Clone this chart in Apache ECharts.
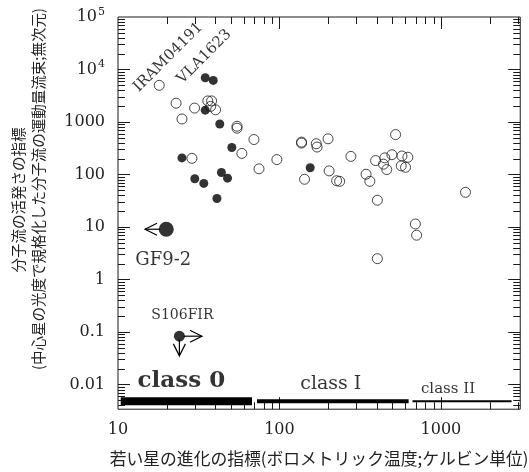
<!DOCTYPE html>
<html>
<head>
<meta charset="utf-8">
<script src="https://cdn.jsdelivr.net/npm/echarts@6/dist/echarts.min.js"></script>
<style>
html,body{margin:0;padding:0;background:#fff;}
#chart{width:529px;height:472px;}
</style>
</head>
<body>
<div id="chart"></div>
<script>
// ---- data ----
const openStars = [
  [18.0, 4990], [22.9, 2280], [29.8, 1840], [36.0, 2520], [38.0, 2520],
  [37.5, 1980], [40.2, 1706], [24.9, 1140], [54.6, 830], [54.6, 760],
  [69.5, 463], [58.5, 252], [28.7, 203], [96.4, 192], [74.7, 128],
  [137, 414], [137, 396], [169, 385], [171, 333], [200, 478],
  [143, 81], [203, 117], [226, 76], [236, 74], [277, 221],
  [524, 575], [394, 184], [449, 207], [497, 238], [574, 225],
  [624, 213], [441, 157], [462, 124], [568, 146], [604, 137],
  [344, 101], [363, 74], [404, 32.3], [1420, 45.7], [695, 11.4],
  [707, 6.97], [404, 2.49]
];
const filledStars = [
  [34.7, 6970], [38.9, 6200], [34.7, 1680], [42.7, 916], [50.7, 327],
  [24.9, 207], [43.7, 109], [47.7, 85], [29.9, 83], [34.0, 67.6],
  [41.0, 34.8], [155, 134]
];
const gf92 = [19.9, 9.05];
const s106fir = [24.0, 0.083];
// upper/lower limit arrows: [fromX, fromY, toX, toY]
const limitArrows = [
  [18.2, 9.05, 14.7, 9.05],
  [25.5, 0.083, 33.1, 0.083],
  [24.0, 0.072, 24.0, 0.035]
];
const iramStar = [18.0, 4990];
const vlaStar = [34.7, 6970];
const classNames = ['class 0', 'class I', 'class II'];
const classStart = [10.4, 72.6, 667];
const classEnd = [67.6, 631, 2740];
const classBandY = 0.0048;
const xTickLabels = [10, 100, 1000];
const yTickLabels = [0.01, 0.1, 1, 10, 100, 1000, 1e4, 1e5];
const xMajorTicks = [100, 1000];
const xMinorTicks = [20,30,40,50,60,70,80,90,200,300,400,500,600,700,800,900,2000,3000];
const yMajorTicks = [0.01, 0.1, 1, 10, 100, 1000, 1e4];
const yMinorTicks = [];
[0.001, 0.01, 0.1, 1, 10, 100, 1000, 10000].forEach(d => {
  for (let k = 2; k <= 9; k++) { const v = d * k; if (v > 0.0034 && v < 1e5) yMinorTicks.push(+v.toPrecision(3)); }
});
const X_MIN = 10, X_MAX = 3100, Y_MIN = 0.00337, Y_MAX = 1e5;

const chart = echarts.init(document.getElementById('chart'));
const ink = '#1a1a1a';
const serif = 'DejaVu Serif';

function tickSeries(values, dir, len) {
  return {
    type: 'custom', silent: true, clip: false, z: 3,
    encode: { x: 0, y: 1 },
    data: values.map(v => dir === 'x' ? [v, 1] : [100, v]),
    renderItem(params, api) {
      const cs = params.coordSys;
      const p = api.coord([api.value(0), api.value(1)]);
      const st = { stroke: ink, lineWidth: 1 };
      if (dir === 'x') {
        const x = Math.round(p[0]) + 0.5;
        const b = cs.y + cs.height, t = cs.y;
        return { type: 'group', children: [
          { type: 'line', shape: { x1: x, y1: b, x2: x, y2: b - len }, style: st },
          { type: 'line', shape: { x1: x, y1: t, x2: x, y2: t + len }, style: st }
        ]};
      }
      const y = Math.round(p[1]) + 0.5;
      const l = cs.x, r = cs.x + cs.width;
      return { type: 'group', children: [
        { type: 'line', shape: { x1: l, y1: y, x2: l + len, y2: y }, style: st },
        { type: 'line', shape: { x1: r, y1: y, x2: r - len, y2: y }, style: st }
      ]};
    }
  };
}

function isDecade(v, list) {
  return list.some(t => Math.abs(Math.log10(v) - Math.log10(t)) < 1e-6);
}

function rotatedLabelLayout(name, dx, dy) {
  return function (params) {
    if (params.text !== name) return null;
    const r = params.rect;
    return { x: r.x + r.width / 2 + dx, y: r.y + r.height / 2 + dy, rotate: 45 };
  };
}

const series = [
  tickSeries(xMajorTicks, 'x', 12),
  tickSeries(xMinorTicks, 'x', 7),
  tickSeries(yMajorTicks, 'y', 12),
  tickSeries(yMinorTicks, 'y', 7),
];

classNames.forEach((name, i) => {
  series.push({
    type: 'line', name, symbol: 'none', silent: true, z: 4,
    data: [[classStart[i], classBandY], [classEnd[i], classBandY]],
    lineStyle: { color: '#000', width: [8, 4, 2][i], cap: 'butt' }
  });
});

const classLabelStyle = [
  { fontSize: 23, fontWeight: 'bold', offset: [-5, -20] },
  { fontSize: 19, fontWeight: 'normal', offset: [-2, -17] },
  { fontSize: 15, fontWeight: 'normal', offset: [-14, -12] }
];
series.push({
  type: 'scatter', silent: true, symbolSize: 0, z: 4,
  data: classNames.map((n, i) => ({
    value: [Math.sqrt(classStart[i] * classEnd[i]), classBandY],
    label: {
      show: true, formatter: n, position: 'inside', color: '#000',
      fontFamily: serif, fontSize: classLabelStyle[i].fontSize,
      fontWeight: classLabelStyle[i].fontWeight, offset: classLabelStyle[i].offset,
      align: 'center', verticalAlign: 'middle'
    }
  }))
});

series.push({
  type: 'scatter', symbol: 'circle', symbolSize: 10, z: 5,
  data: openStars.map(p => {
    const isIram = p[0] === iramStar[0] && p[1] === iramStar[1];
    return isIram ? {
      value: p,
      label: { show: true, formatter: 'IRAM04191', position: 'inside',
        fontFamily: serif, fontSize: 15, color: '#000', align: 'center', verticalAlign: 'middle' }
    } : p;
  }),
  labelLayout: rotatedLabelLayout('IRAM04191', 9, -28),
  itemStyle: { color: 'rgba(0,0,0,0)', borderColor: ink, borderWidth: 1 }
});

series.push({
  type: 'scatter', symbol: 'circle', symbolSize: 9, z: 6,
  data: filledStars.map(p => {
    const isVla = p[0] === vlaStar[0] && p[1] === vlaStar[1];
    return isVla ? {
      value: p,
      label: { show: true, formatter: 'VLA1623', position: 'inside',
        fontFamily: serif, fontSize: 15, color: '#000', align: 'center', verticalAlign: 'middle' }
    } : p;
  }),
  labelLayout: rotatedLabelLayout('VLA1623', -1, -21),
  itemStyle: { color: '#000' }
});

series.push({
  type: 'scatter', symbol: 'circle', z: 6,
  data: [
    { value: gf92, symbolSize: 15,
      label: { show: true, formatter: 'GF9-2', position: 'inside', offset: [-3, 31], fontFamily: serif, fontSize: 18, color: '#000' } },
    { value: s106fir, symbolSize: 11,
      label: { show: true, formatter: 'S106FIR', position: 'inside', offset: [3, -21], fontFamily: serif, fontSize: 14, color: '#000' } }
  ],
  itemStyle: { color: '#000' }
});

series.push({
  type: 'custom', silent: true, clip: false, z: 5,
  data: limitArrows,
  encode: { x: [0, 2], y: [1, 3] },
  renderItem(params, api) {
    const a = api.coord([api.value(0), api.value(1)]);
    const b = api.coord([api.value(2), api.value(3)]);
    const ang = Math.atan2(b[1] - a[1], b[0] - a[0]);
    const hl = 12, hw = 6;
    const bx = b[0] - hl * Math.cos(ang), by = b[1] - hl * Math.sin(ang);
    const nx = -Math.sin(ang) * hw, ny = Math.cos(ang) * hw;
    return { type: 'group', children: [
      { type: 'line', shape: { x1: a[0], y1: a[1], x2: b[0], y2: b[1] }, style: { stroke: '#000', lineWidth: 1.2 } },
      { type: 'polyline', shape: { points: [[bx + nx, by + ny], [b[0], b[1]], [bx - nx, by - ny]] },
        style: { stroke: '#000', lineWidth: 1.2, fill: null } }
    ]};
  }
});

chart.setOption({
  animation: false,
  backgroundColor: '#fff',
  grid: { left: 113, right: 2, top: 17, bottom: 59, show: true, borderColor: ink, borderWidth: 1, backgroundColor: '#fff' },
  xAxis: {
    type: 'log', min: X_MIN, max: X_MAX, logBase: 10,
    axisLine: { show: false }, axisTick: { show: false }, splitLine: { show: false }, minorTick: { show: false },
    axisLabel: {
      margin: 13, color: '#222', fontFamily: serif, fontSize: 16,
      formatter: v => isDecade(v, xTickLabels) ? String(Math.round(v)) : ''
    },
    name: '若い星の進化の指標(ボロメトリック温度;ケルビン単位)',
    nameLocation: 'middle', nameGap: 41,
    nameTextStyle: { fontFamily: 'Noto Sans CJK JP', fontSize: 16.8, color: '#222', verticalAlign: 'top' }
  },
  yAxis: {
    type: 'log', min: Y_MIN, max: Y_MAX, logBase: 10,
    axisLine: { show: false }, axisTick: { show: false }, splitLine: { show: false }, minorTick: { show: false },
    axisLabel: {
      margin: 13, color: '#222', fontFamily: serif, fontSize: 16,
      formatter: v => {
        if (!isDecade(v, yTickLabels)) return '';
        const e = Math.round(Math.log10(v));
        if (e >= 4) return '{b|10}{s|' + e + '}';
        if (e >= 0) return String(Math.pow(10, e));
        return e === -1 ? '0.1' : '0.01';
      },
      rich: {
        b: { fontFamily: serif, fontSize: 16, color: '#222' },
        s: { fontFamily: serif, fontSize: 11, color: '#222', verticalAlign: 'bottom', padding: [0, 0, 10, 1] }
      }
    },
    name: '{l1|分子流の活発さの指標}\n(中心星の光度で規格化した分子流の運動量流束;無次元)',
    nameLocation: 'middle', nameGap: 70, nameRotate: 90,
    nameTextStyle: {
      fontFamily: 'Noto Sans CJK JP', fontSize: 14.5, color: '#222', lineHeight: 20,
      padding: [0, 0, 0, 48],
      rich: { l1: { fontFamily: 'Noto Sans CJK JP', fontSize: 14.5, color: '#222', padding: [0, 22, 0, 0] } }
    }
  },
  series
});
</script>
</body>
</html>
